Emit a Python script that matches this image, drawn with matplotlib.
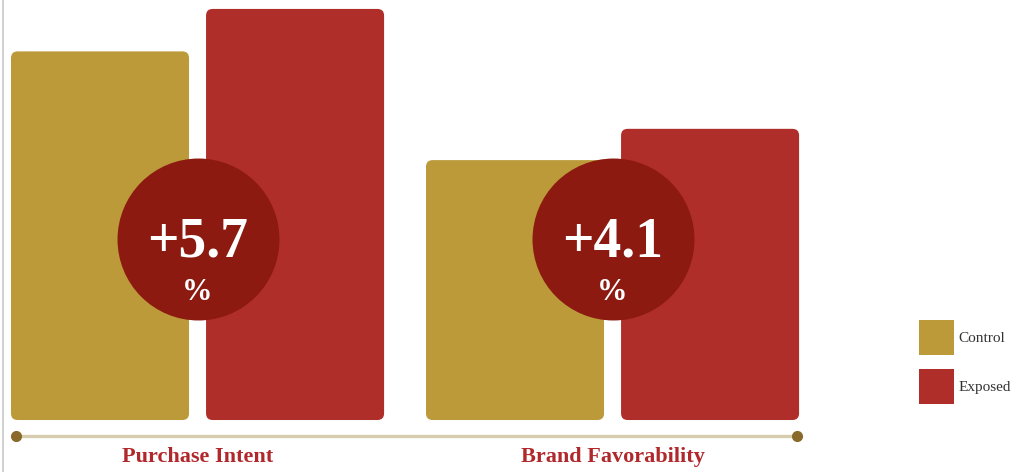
# Control vs Exposed lift chart
import numpy as np
from matplotlib import pyplot as plt
from matplotlib.patches import FancyBboxPatch, Patch
from matplotlib.lines import Line2D

# data
categories = ['Purchase Intent', 'Brand Favorability']
control = [49.5, 34.9]
exposed = [55.2, 39.1]
lifts = ['+5.7', '+4.1']
series_names = ['Control', 'Exposed']

# colours
c_control = '#bc9a3a'
c_exposed = '#b02e2a'
c_circle = '#8c1a10'
c_label = '#b0282c'

plt.rcParams['font.family'] = ['Liberation Serif', 'DejaVu Serif']

fig = plt.figure(figsize=(10.3, 4.72), dpi=100)
ax = fig.add_axes([0, 0, 830 / 1030, 1])

x = np.arange(len(categories))
w = 0.429
off = 0.235

bars_c = ax.bar(x - off, control, width=w, color=c_control)
bars_e = ax.bar(x + off, exposed, width=w, color=c_exposed)

# swap plain bars for rounded ones
for bars in (bars_c, bars_e):
    for b in bars:
        fb = FancyBboxPatch((b.get_x(), b.get_y()), b.get_width(), b.get_height(),
                            boxstyle='round,pad=0,rounding_size=0.016',
                            mutation_aspect=55.7,
                            facecolor=b.get_facecolor(), edgecolor='none')
        b.set_visible(False)
        ax.add_patch(fb)

ax.set_xlim(-0.476, 1.524)
ax.set_ylim(-6.98, 56.4)
ax.axis('off')

# baseline with dots
base_y = -2.15
ax.plot([-0.437, 1.445], [base_y, base_y], color='#d8ccae', lw=2.4,
        solid_capstyle='butt', zorder=2)
ax.plot([-0.437, 1.445], [base_y, base_y], 'o', color='#8a6a2a', ms=7,
        zorder=3)

# category labels
for xi, cat in zip(x, categories):
    ax.text(xi, -5.0, cat, ha='center', va='center', fontsize=16,
            fontweight='bold', color=c_label)

# lift circles
circle_y = 24.3
ax.scatter(x, [circle_y] * len(x), s=13600, color=c_circle, zorder=4,
           linewidths=0)
for xi, lift in zip(x, lifts):
    ax.text(xi, circle_y - 0.4, lift, ha='center', va='center', fontsize=40,
            fontweight='bold', color='white', zorder=5)
    ax.text(xi, circle_y - 7.2, '%', ha='center', va='center', fontsize=22,
            fontweight='bold', color='white', zorder=5)

# left border line
fig.add_artist(Line2D([2.5 / 1030, 2.5 / 1030], [0, 1], color='#c8c8c8', lw=1.2))

# legend
handles = [Patch(facecolor=c_control, edgecolor='none'),
           Patch(facecolor=c_exposed, edgecolor='none')]
fig.legend(handles, series_names, loc='center left',
           bbox_to_anchor=(905 / 1030, 1 - 362 / 472), frameon=False,
           fontsize=11, handlelength=2.3, handleheight=3.15,
           handletextpad=0.3, labelspacing=0.9, labelcolor='#333333')

plt.savefig('out.png', dpi=100)
